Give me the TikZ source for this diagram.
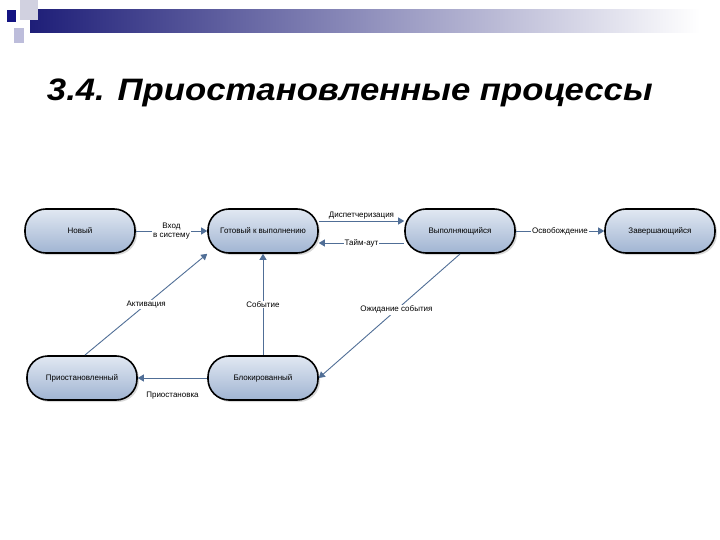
\documentclass[tikz,border=0pt]{standalone}
\usepackage{fontspec}
\setmainfont{Liberation Sans}
\usetikzlibrary{shadows,arrows.meta}
\definecolor{hdark}{RGB}{30,30,120}
\definecolor{sqdark}{RGB}{20,20,130}
\definecolor{edgec}{RGB}{80,110,150}
\definecolor{ftop}{RGB}{225,232,242}
\definecolor{fbot}{RGB}{160,180,210}
\begin{document}
\begin{tikzpicture}[x=1pt,y=-1pt,
  state/.style={draw=black,line width=1.6pt,rounded corners=21pt,minimum width=110pt,minimum height=44pt,
    top color=ftop,bottom color=fbot,font=\fontsize{8}{9}\selectfont,inner sep=1pt,
    drop shadow={shadow xshift=2pt,shadow yshift=-2pt,opacity=0.3}},
  conn/.style={draw=edgec,line width=0.9pt,-{Triangle[width=7pt,length=6pt]}},
  lbl/.style={font=\fontsize{8}{9}\selectfont,fill=white,inner sep=1pt,align=center}]
\useasboundingbox (0,0) rectangle (720,540);
% header
\shade[left color=hdark,right color=white] (30,10) rectangle (700,33);
\fill[blue!20!gray!30] (20,0) rectangle (38,20);
\fill[blue!30!gray!40] (14,28) rectangle (24,43);
\fill[sqdark] (7,10) rectangle (16,22);
\node[anchor=west,font=\bfseries\itshape\fontsize{31}{36}\selectfont,xscale=1.12] (title) at (43,93) {3.4. Приостановленные процессы};
% nodes
\node[state] (new) at (80,231) {Новый};
\node[state] (ready) at (263,231) {Готовый к выполнению};
\node[state] (run) at (460,231) {Выполняющийся};
\node[state] (fin) at (660,231) {Завершающийся};
\node[state] (susp) at (82,378) {Приостановленный};
\node[state] (blk) at (263,378) {Блокированный};
% edges
\draw[conn] (new.east) -- node[lbl]{Вход\\в систему} (ready.west);
\draw[conn] ([yshift=10pt]ready.east) -- node[lbl,above,fill=none]{Диспетчеризация} ([yshift=10pt]run.west);
\draw[conn] ([yshift=-12pt]run.west) -- node[lbl]{Тайм-аут} ([yshift=-12pt]ready.east);
\draw[conn] (run.east) -- node[lbl]{Освобождение} (fin.west);
\coordinate (ws) at (460,254);
\draw[conn] (ws) -- node[lbl,pos=0.45]{Ожидание события} (blk.east);
\draw[conn] (blk.north) -- node[lbl]{Событие} (ready.south);
\coordinate (as) at (85,355);
\draw[conn] (as) -- node[lbl,pos=0.5]{Активация} (ready.south west);
\draw[conn] (blk.west) -- node[lbl,below=13pt,fill=none]{Приостановка} (susp.east);
\end{tikzpicture}
\end{document}
